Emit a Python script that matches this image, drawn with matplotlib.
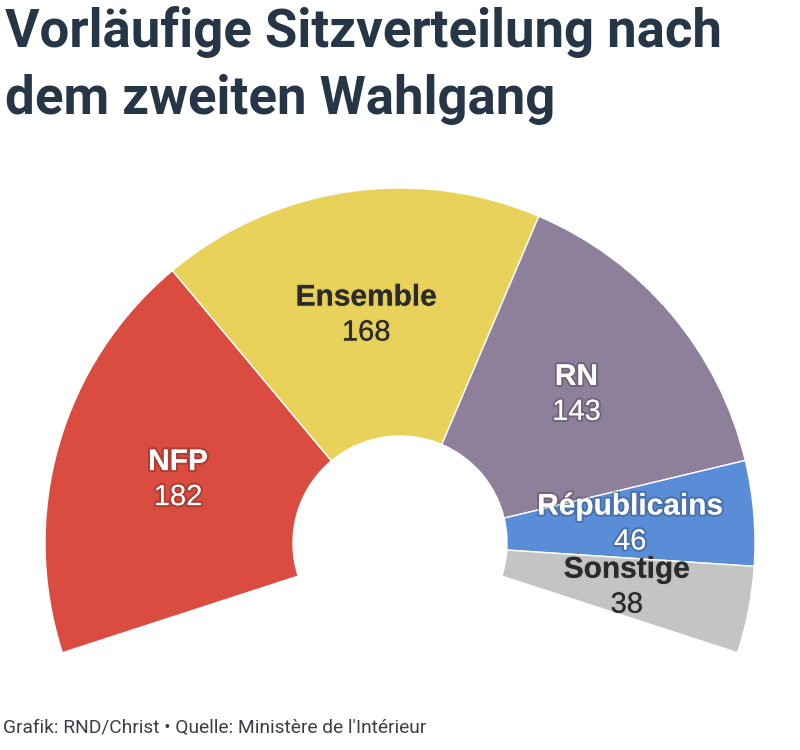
import numpy as np
import matplotlib
matplotlib.use("Agg")
import matplotlib.pyplot as plt
import matplotlib.patheffects as pe

# ── data ─────────────────────────────────────────────────────────────────────
parties = ["NFP", "Ensemble", "RN", "Républicains", "Sonstige"]
seats = [182, 168, 143, 46, 38]
colors = ["#d94c3f", "#e8d25a", "#8e7f9a", "#5a8dd8", "#c4c4c4"]
text_colors = ["white", "#2b2b2b", "white", "white", "#2b2b2b"]

TITLE = "Vorläufige Sitzverteilung nach\ndem zweiten Wahlgang"
SOURCE = "Grafik: RND/Christ • Quelle: Ministère de l'Intérieur"

# arc layout (pixel-like coordinates, y up)
SPAN = 216.0
START = 90 + SPAN / 2
CX, CY = 400, 207
R_OUT, R_IN = 355, 107

fig = plt.figure(figsize=(8, 7.5), dpi=100)
ax = fig.add_axes([0, 0, 1, 1])

total = sum(seats)
hidden = total * (360 - SPAN) / SPAN
wedges, _ = ax.pie(seats + [hidden], colors=colors + ["none"],
                   startangle=START, counterclock=False,
                   center=(CX, CY), radius=R_OUT, frame=True,
                   wedgeprops=dict(width=R_OUT - R_IN, edgecolor="white",
                                   linewidth=1))
wedges[-1].set_edgecolor("none")

ax.set_xlim(0, 800)
ax.set_ylim(0, 750)
ax.set_aspect("equal")
ax.axis("off")

# labels at mid-angle, mid-radius
r_mid = (R_OUT + R_IN) / 2
for w, name, n, tc in zip(wedges[:-1], parties, seats, text_colors):
    ang = np.deg2rad((w.theta1 + w.theta2) / 2)
    x = CX + r_mid * np.cos(ang)
    y = CY + r_mid * np.sin(ang)
    if tc == "white":
        shadow = [pe.withStroke(linewidth=3, foreground=(0, 0, 0, 0.2))]
    else:
        shadow = [pe.withStroke(linewidth=2, foreground=(0, 0, 0, 0.04))]
    ax.text(x, y + 17, name, ha="center", va="center", fontsize=21.5,
            fontweight="bold", color=tc, family="Liberation Sans",
            path_effects=shadow)
    ax.text(x, y - 18, str(n), ha="center", va="center", fontsize=21,
            color=tc, family="Liberation Sans", path_effects=shadow)

fig.text(0.006, 0.992, TITLE, ha="left", va="top", fontsize=38,
         fontweight="bold", color="#263646", family="Roboto",
         linespacing=1.4)
fig.text(0.004, 0.03, SOURCE, ha="left", va="center", fontsize=13.8,
         color="#3a3f47", family="Roboto")

fig.savefig("out.png", dpi=100)
